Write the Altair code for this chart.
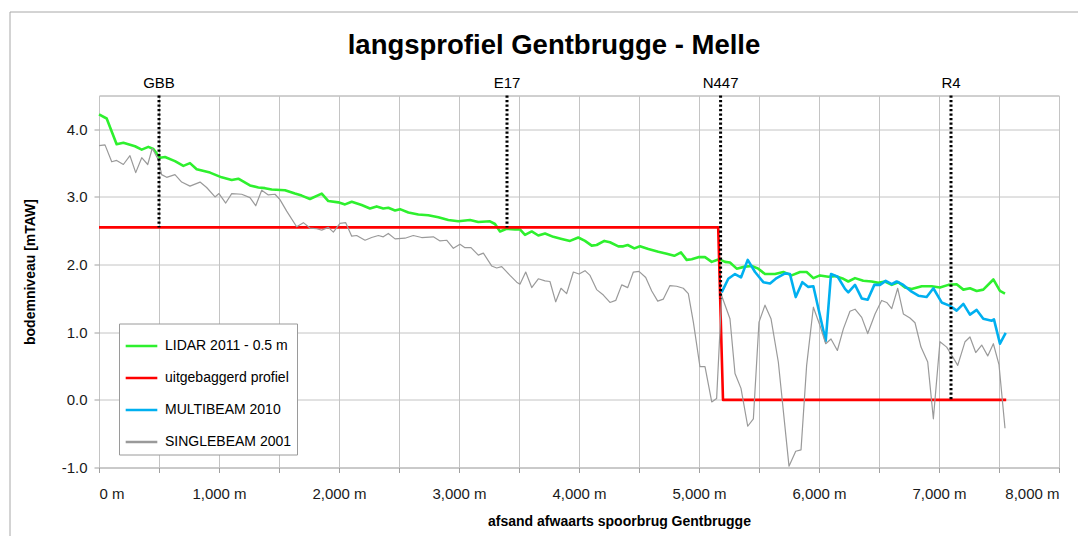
import altair as alt
import pandas as pd

FONT = "'Liberation Sans', Arial, sans-serif"

series_names = ["LIDAR 2011 - 0.5 m", "uitgebaggerd profiel", "MULTIBEAM 2010", "SINGLEBEAM 2001"]
series_colors = ["#2ef02e", "#ff0000", "#00b0f0", "#9a9a9a"]
series_widths = [2.6, 2.6, 2.6, 1.2]

lidar_x = [0, 64, 147, 203, 300, 356, 411, 453, 508, 550, 633, 703, 758, 814, 925, 1022, 1106, 1161, 1258, 1328,
           1383, 1439, 1550, 1633, 1689, 1758, 1856, 1911, 1994, 2050, 2106, 2189, 2258, 2314, 2369, 2411, 2467,
           2508, 2578, 2661, 2744, 2828, 2911, 2994, 3092, 3161, 3258, 3300, 3342, 3397, 3467, 3508, 3550, 3606,
           3661, 3717, 3786, 3856, 3925, 3994, 4050, 4106, 4147, 4211, 4258, 4328, 4369, 4406, 4461, 4508, 4578,
           4661, 4731, 4794, 4850, 4897, 4939, 4994, 5050, 5106, 5167, 5217, 5258, 5314, 5383, 5439, 5494, 5550,
           5633, 5703, 5772, 5842, 5897, 5953, 6008, 6078, 6133, 6203, 6244, 6300, 6369, 6439, 6494, 6550, 6606,
           6661, 6717, 6772, 6856, 6939, 7008, 7078, 7147, 7203, 7258, 7314, 7369, 7453, 7508, 7550]
lidar_y = [4.22, 4.16, 3.78, 3.80, 3.75, 3.70, 3.74, 3.71, 3.58, 3.59, 3.53, 3.46, 3.50, 3.41, 3.36, 3.29, 3.25,
           3.27, 3.17, 3.14, 3.13, 3.11, 3.10, 3.05, 3.02, 2.97, 3.05, 2.94, 2.92, 2.89, 2.93, 2.88, 2.83, 2.86,
           2.83, 2.84, 2.80, 2.82, 2.77, 2.74, 2.73, 2.70, 2.66, 2.64, 2.66, 2.63, 2.64, 2.60, 2.49, 2.53, 2.52,
           2.52, 2.44, 2.49, 2.43, 2.46, 2.41, 2.38, 2.35, 2.40, 2.35, 2.28, 2.29, 2.35, 2.33, 2.27, 2.27, 2.29,
           2.24, 2.27, 2.23, 2.19, 2.16, 2.13, 2.18, 2.07, 2.08, 2.11, 2.11, 2.04, 2.08, 2.04, 2.03, 1.94, 1.97,
           1.98, 1.94, 1.86, 1.86, 1.89, 1.84, 1.89, 1.89, 1.80, 1.84, 1.82, 1.83, 1.79, 1.75, 1.80, 1.76, 1.75,
           1.73, 1.75, 1.70, 1.74, 1.66, 1.64, 1.68, 1.68, 1.66, 1.70, 1.71, 1.63, 1.65, 1.61, 1.63, 1.78, 1.61,
           1.57]

dredge_x = [0, 5160, 5200, 7560]
dredge_y = [2.55, 2.55, 0.0, 0.0]

multi_x = [5189, 5244, 5300, 5350, 5406, 5467, 5536, 5592, 5647, 5717, 5758, 5806, 5861, 5911, 5953, 6056, 6100,
           6156, 6217, 6244, 6300, 6356, 6406, 6461, 6508, 6556, 6606, 6647, 6703, 6772, 6828, 6897, 6953, 7022,
           7092, 7147, 7203, 7258, 7314, 7369, 7439, 7458, 7508, 7556]
multi_y = [1.59, 1.79, 1.86, 1.81, 2.07, 1.89, 1.74, 1.72, 1.80, 1.87, 1.86, 1.52, 1.74, 1.67, 1.68, 0.87, 1.86,
           1.82, 1.64, 1.59, 1.70, 1.50, 1.48, 1.70, 1.70, 1.76, 1.71, 1.75, 1.70, 1.60, 1.54, 1.52, 1.65, 1.44,
           1.39, 1.32, 1.42, 1.26, 1.33, 1.20, 1.17, 1.19, 0.83, 0.99]

single_x = [0, 50, 106, 147, 203, 258, 306, 356, 406, 444, 494, 522, 564, 633, 689, 758, 842, 897, 967, 1000,
            1056, 1106, 1189, 1258, 1306, 1356, 1411, 1467, 1508, 1564, 1647, 1703, 1758, 1814, 1856, 1911, 1953,
            2008, 2056, 2106, 2147, 2217, 2272, 2328, 2369, 2411, 2467, 2550, 2619, 2689, 2786, 2842, 2897, 2953,
            3008, 3050, 3100, 3161, 3203, 3272, 3314, 3356, 3425, 3481, 3508, 3556, 3606, 3661, 3717, 3758, 3806,
            3850, 3897, 3953, 4000, 4050, 4092, 4147, 4203, 4258, 4306, 4356, 4406, 4453, 4500, 4556, 4606, 4656,
            4703, 4758, 4814, 4869, 4911, 4953, 5008, 5050, 5106, 5147, 5189, 5258, 5300, 5350, 5406, 5453, 5500,
            5550, 5600, 5661, 5750, 5806, 5850, 5897, 5953, 6008, 6056, 6100, 6153, 6203, 6258, 6300, 6356, 6406,
            6467, 6522, 6564, 6606, 6656, 6703, 6758, 6800, 6850, 6906, 6953, 7008, 7064, 7106, 7156, 7217, 7258,
            7306, 7356, 7406, 7453, 7500, 7550]
single_y = [3.76, 3.77, 3.52, 3.54, 3.48, 3.61, 3.36, 3.58, 3.48, 3.72, 3.55, 3.33, 3.29, 3.33, 3.22, 3.16, 3.22,
            3.14, 3.00, 3.05, 2.91, 3.05, 3.04, 2.99, 2.87, 3.10, 3.03, 3.04, 2.96, 2.79, 2.56, 2.62, 2.54, 2.53,
            2.51, 2.55, 2.48, 2.61, 2.62, 2.42, 2.43, 2.36, 2.40, 2.43, 2.41, 2.46, 2.38, 2.39, 2.43, 2.40, 2.41,
            2.35, 2.36, 2.24, 2.30, 2.25, 2.25, 2.14, 2.17, 1.98, 1.95, 1.97, 1.84, 1.74, 1.71, 1.89, 1.66, 1.79,
            1.76, 1.75, 1.45, 1.65, 1.57, 1.89, 1.86, 1.91, 1.84, 1.63, 1.55, 1.44, 1.47, 1.70, 1.66, 1.89, 1.90,
            1.81, 1.61, 1.46, 1.49, 1.69, 1.68, 1.65, 1.57, 1.15, 0.49, 0.49, -0.03, 0.02, 1.54, 1.20, 0.39, 0.17,
            -0.39, -0.28, 1.15, 1.40, 1.20, 0.56, -0.98, -0.76, -0.74, 0.51, 1.37, 1.10, 0.83, 0.90, 0.73, 1.05,
            1.31, 1.34, 1.22, 0.98, 1.27, 1.47, 1.44, 1.35, 1.65, 1.27, 1.21, 1.14, 0.78, 0.56, -0.28, 0.86, 0.78,
            0.66, 0.51, 0.86, 0.93, 0.70, 0.81, 0.65, 0.83, 0.52, -0.42]

marker_names = ["GBB", "E17", "N447", "R4"]
marker_x = [500, 3400, 5180, 7100]
marker_top = [4.5, 4.5, 4.5, 4.5]
marker_bottom = [2.55, 2.55, 1.5, 0.0]

title_text = ["langsprofiel Gentbrugge - Melle"]

rows = []
for name, xs, ys in [(series_names[0], lidar_x, lidar_y), (series_names[1], dredge_x, dredge_y),
                     (series_names[2], multi_x, multi_y), (series_names[3], single_x, single_y)]:
    for i, (x, y) in enumerate(zip(xs, ys)):
        rows.append({"serie": name, "afstand": x, "niveau": y, "volg": i})
df = pd.DataFrame(rows)

markers = pd.DataFrame({"naam": marker_names, "afstand": marker_x, "top": marker_top, "bodem": marker_bottom})

x_scale = alt.Scale(domain=[0, 8000], nice=False)
y_scale = alt.Scale(domain=[-1, 4.5], nice=False)

x_axis = alt.Axis(
    values=list(range(0, 8001, 500)),
    labelExpr="datum.value % 1000 == 0 ? format(datum.value, ',') + ' m' : ''",
    title="afsand afwaarts spoorbrug Gentbrugge",
    titleX=520, titleY=54, titleAlign="center", titleBaseline="middle",
    labelPadding=14,
)
y_axis = alt.Axis(
    values=[-1, -0.5, 0, 0.5, 1, 1.5, 2, 2.5, 3, 3.5, 4, 4.5],
    labelExpr="datum.value % 1 == 0 ? replace(format(datum.value, '.1f'), '\u2212', '-') : ''",
    title="bodemniveau [mTAW]",
    titleX=-69, titleY=176, titleAlign="center", titleBaseline="middle", titleAngle=-90,
    labelPadding=7,
)

legend = alt.Legend(
    title=None, orient="none", legendX=20, legendY=228,
    symbolType="stroke", symbolSize=1000, symbolStrokeWidth=2.6,
    labelFontSize=14, labelFont=FONT, labelColor="#000000",
    fillColor="#ffffff", strokeColor="#9a9a9a", padding=5, rowPadding=7, labelOffset=6,
)

color_enc = alt.Color("serie:N", scale=alt.Scale(domain=series_names, range=series_colors), legend=legend)

base = alt.Chart(df)


def series_layer(name, width):
    return base.transform_filter(alt.datum.serie == name).mark_line(strokeJoin="round", strokeWidth=width).encode(
        x=alt.X("afstand:Q", scale=x_scale, axis=x_axis),
        y=alt.Y("niveau:Q", scale=y_scale, axis=y_axis),
        color=color_enc,
        order="volg:Q",
    )


lines = [series_layer(n, w) for n, w in zip(series_names, series_widths)]

rules = alt.Chart(markers).mark_rule(color="#000000", strokeWidth=3, strokeDash=[2.2, 2.3]).encode(
    x=alt.X("afstand:Q", scale=x_scale),
    y=alt.Y("top:Q", scale=y_scale),
    y2="bodem:Q",
)

labels = alt.Chart(markers).mark_text(fontSize=15, font=FONT, color="#000000", dy=-13, baseline="middle",
                                      clip=False).encode(
    x=alt.X("afstand:Q", scale=x_scale),
    y=alt.Y("top:Q", scale=y_scale),
    text="naam:N",
)

title = alt.Chart(pd.DataFrame({"t": title_text})).mark_text(
    fontSize=27.5, font=FONT, fontWeight="bold", color="#000000", baseline="middle", align="center", clip=False,
).encode(x=alt.value(455), y=alt.value(-50), text="t:N")

frame = alt.Chart(pd.DataFrame({"k": [0]})).mark_rect(fill=None, stroke="#a8a8a8", strokeWidth=1, clip=False).encode(
    x=alt.value(-89), x2=alt.value(1100), y=alt.value(-83.5), y2=alt.value(600),
)

chart = alt.layer(frame, title, *lines, rules, labels).properties(
    width=960, height=372,
    autosize="none",
    padding={"left": 91, "top": 87.5, "right": 19, "bottom": 68},
    background="#ffffff",
).configure_view(stroke="#a0a0a0", strokeWidth=1).configure_axis(
    gridColor="#c4c4c4", gridWidth=1, tickColor="#a0a0a0", tickSize=5, domain=False,
    labelFont=FONT, labelFontSize=15, labelColor="#1a1a1a",
    titleFont=FONT, titleFontSize=14, titleFontWeight="bold", titleColor="#000000",
)

chart.save("out.html", embed_options={"renderer": "svg", "actions": False})
